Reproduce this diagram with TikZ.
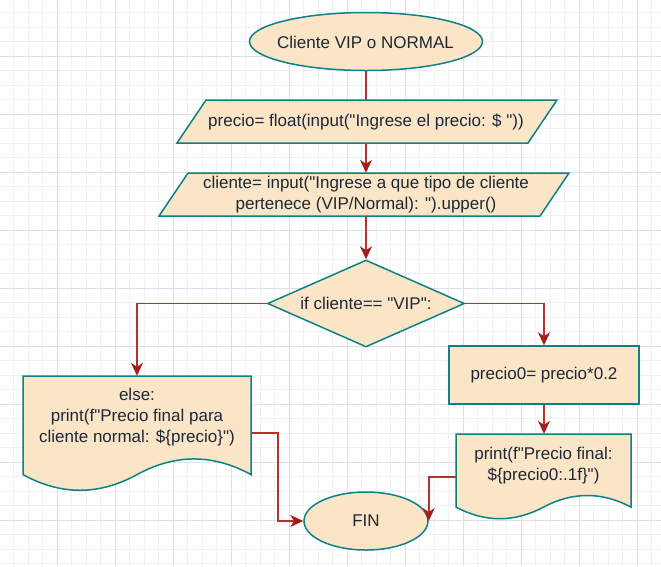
\documentclass[tikz,border=0pt]{standalone}
\usepackage{fontspec}
\setmainfont{Liberation Sans}
\usetikzlibrary{shapes.geometric,arrows.meta}
\newcommand{\myq}{\textquotedbl}
\definecolor{shfill}{RGB}{250,229,199}
\definecolor{shline}{RGB}{14,128,136}
\definecolor{conn}{RGB}{180,50,50}
\definecolor{connhead}{RGB}{165,30,30}
\definecolor{txtc}{RGB}{30,40,55}
\definecolor{gridmin}{RGB}{240,240,240}
\definecolor{gridmaj}{RGB}{224,224,224}
\begin{document}
\begin{tikzpicture}[x=1pt,y=-1pt,
  shapebox/.style={draw=shline,fill=shfill,line width=1.5pt},
  txt/.style={text=txtc,font=\fontsize{17}{21}\selectfont,align=center,inner sep=0pt},
  frame/.style={inner sep=0pt,draw=none},
  flow/.style={draw=conn,line width=1.6pt,-{Stealth[length=13pt,width=12pt,inset=4pt,color=connhead]}},
  plain/.style={draw=conn,line width=1.6pt},
  minorline/.style={draw=gridmin,line width=0.8pt},
  majorline/.style={draw=gridmaj,line width=0.9pt}]
\useasboundingbox (0,0) rectangle (661,566);
\fill[white] (0,0) rectangle (661,566);
% grid
\foreach \i in {0,...,46} \draw[minorline] ({-0.7+14.5*\i},0) -- ({-0.7+14.5*\i},566);
\foreach \i in {0,...,39} \draw[minorline] (0,{-1.7+14.5*\i}) -- (661,{-1.7+14.5*\i});
\foreach \i in {0,...,11} \draw[majorline] ({-0.7+58*\i},0) -- ({-0.7+58*\i},566);
\foreach \i in {0,...,9} \draw[majorline] (0,{-1.7+58*\i}) -- (661,{-1.7+58*\i});

% start
\node[shapebox, ellipse, minimum width=233pt, minimum height=58pt, inner sep=0pt] (start) at (366,41.5) {};
\node[txt] (startt) at (365.5,42) {Cliente VIP o NORMAL};

% input 1
\draw[shapebox] (206,100) -- (557,100) -- (528,143) -- (177,143) -- cycle;
\node[txt, minimum height=43pt] (in1) at (366,121.5) {precio= float(input(\myq Ingrese el precio: \$ \myq))};

% input 2
\draw[shapebox] (188,173) -- (569,173) -- (540,216) -- (159,216) -- cycle;
\node[txt, minimum height=43pt] (in2) at (366,194.5) {cliente= input(\myq Ingrese a que tipo de cliente\\pertenece (VIP/Normal): \myq).upper()};

% decision
\node[shapebox, diamond, minimum width=197pt, minimum height=87pt, inner sep=0pt] (dec) at (366,303.5) {};
\node[txt] (dect) at (366,303) {if cliente== \myq VIP\myq:};

% calc
\node[shapebox, txt, rectangle, minimum width=190pt, minimum height=58pt] (calc) at (544,375) {precio0= precio*0.2};

% left document
\draw[shapebox] (23,376) -- (251,376) -- (251,474.6) .. controls (213,453.73) and (175,453.73) .. (137,474.6) .. controls (99,495.47) and (61,495.47) .. (23,474.6) -- cycle;
\node[frame, minimum width=228pt, minimum height=114pt] (outL) at (137,433) {};
\node[txt] (outLt) at (137,417) {else:\\print(f\myq Precio final para\\cliente normal: \$\{precio\}\myq)};

% right document
\draw[shapebox] (456,434) -- (631,434) -- (631,507.1) .. controls (601.83,491.62) and (572.67,491.62) .. (543.5,507.1) .. controls (514.33,522.58) and (485.17,522.58) .. (456,507.1) -- cycle;
\node[frame, minimum width=175pt, minimum height=86pt] (outR) at (544,477) {};
\node[txt] (outRt) at (543.5,465.5) {print(f\myq Precio final:\\\$\{precio0:.1f\}\myq)};

% end
\node[shapebox, txt, ellipse, minimum width=124pt, minimum height=58pt] (fin) at (366,521) {FIN};

% connectors
\draw[plain] (start) -- (in1);
\draw[flow] (in1) -- (in2);
\draw[flow] (in2) -- (dec);
\draw[flow] (dec.west) -| (outL.north);
\draw[flow] (dec.east) -| (calc.north);
\draw[flow] (calc) -- (outR);
\draw[flow] (outL.east) -- ++(27,0) |- (fin.west);
\draw[flow] (outR.west) -| (fin.east);
\end{tikzpicture}
\end{document}
